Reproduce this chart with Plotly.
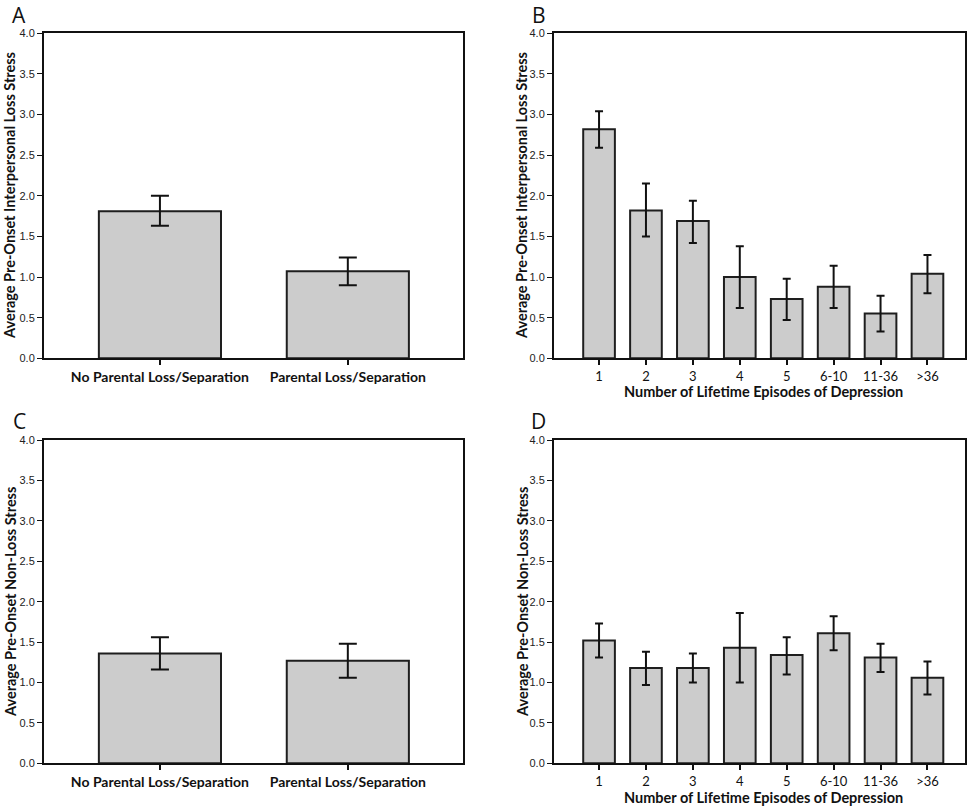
import plotly.graph_objects as go

# ---------------- data ----------------
parental_groups = ["No Parental Loss/Separation", "Parental Loss/Separation"]
episode_groups = ["1", "2", "3", "4", "5", "6-10", "11-36", ">36"]

# Panel A: interpersonal loss stress by parental loss
a_mean = [1.81, 1.07]
a_upper = [2.00, 1.24]
a_lower = [1.63, 0.90]

# Panel B: interpersonal loss stress by number of episodes
b_mean = [2.82, 1.82, 1.69, 1.00, 0.73, 0.88, 0.55, 1.04]
b_upper = [3.04, 2.15, 1.94, 1.38, 0.98, 1.14, 0.77, 1.27]
b_lower = [2.59, 1.50, 1.42, 0.62, 0.47, 0.62, 0.33, 0.80]

# Panel C: non-loss stress by parental loss
c_mean = [1.36, 1.27]
c_upper = [1.56, 1.48]
c_lower = [1.16, 1.06]

# Panel D: non-loss stress by number of episodes
d_mean = [1.52, 1.18, 1.18, 1.43, 1.34, 1.61, 1.31, 1.06]
d_upper = [1.73, 1.38, 1.36, 1.86, 1.56, 1.82, 1.48, 1.26]
d_lower = [1.31, 0.97, 1.00, 1.00, 1.10, 1.40, 1.13, 0.85]

y_ticks = [0.0, 0.5, 1.0, 1.5, 2.0, 2.5, 3.0, 3.5, 4.0]
y_tick_text = ["0.0", "0.5", "1.0", "1.5", "2.0", "2.5", "3.0", "3.5", "4.0"]

title_interpersonal = "Average Pre-Onset Interpersonal Loss Stress"
title_nonloss = "Average Pre-Onset Non-Loss Stress"
title_episodes = "Number of Lifetime Episodes of Depression"

# ---------------- figure ----------------
W, H = 975, 809
fig = go.Figure()

BAR_FILL = "#cccccc"
BAR_LINE = "#1e1e1e"
TITLE_FONT = dict(family="Lato", size=14.5, color="#111111")


def px_x(x):
    return x / W


def px_y(y):
    return 1 - y / H


panels = [
    # name, cats, mean, up, lo, x-domain px, y-domain px, x-range, barwidth, capw, bold ticks
    ("A", parental_groups, a_mean, a_upper, a_lower, (44, 463), (33.3, 358.3), (-0.617, 1.613), 0.65, 9, True),
    ("B", episode_groups, b_mean, b_upper, b_lower, (554, 965), (33.3, 358.3), (-0.96, 7.80), 0.675, 4, False),
    ("C", parental_groups, c_mean, c_upper, c_lower, (44, 463), (440, 763.3), (-0.617, 1.613), 0.65, 9, True),
    ("D", episode_groups, d_mean, d_upper, d_lower, (554, 965), (440, 763.3), (-0.96, 7.80), 0.675, 4, False),
]

for i, (name, cats, mean, up, lo, xd, yd, xr, bw, capw, bold) in enumerate(panels):
    idx = "" if i == 0 else str(i + 1)
    xa = "x" + idx
    ya = "y" + idx
    fig.add_trace(go.Bar(
        x=cats, y=mean, xaxis=xa, yaxis=ya,
        width=bw,
        marker=dict(color=BAR_FILL, line=dict(color=BAR_LINE, width=2)),
        error_y=dict(type="data", symmetric=False,
                     array=[u - m for u, m in zip(up, mean)],
                     arrayminus=[m - l for m, l in zip(mean, lo)],
                     color="#111111", thickness=2, width=capw),
        showlegend=False, hoverinfo="skip",
    ))
    tickfont = (dict(family="Lato", size=14, color="#111111") if bold
                else dict(family="Lato", size=13, color="#111111"))
    ticktext = [f"<b>{c}</b>" for c in cats] if bold else cats
    fig.layout["xaxis" + idx] = dict(
        domain=[px_x(xd[0]), px_x(xd[1])],
        anchor=ya, type="category", range=list(xr),
        tickmode="array", tickvals=cats, ticktext=ticktext,
        ticks="outside", ticklen=5, tickwidth=1.6, tickcolor="#111111",
        showline=True, linecolor="#111111", linewidth=2, mirror=True,
        showgrid=False, zeroline=False, tickfont=tickfont, fixedrange=True,
        automargin=False,
    )
    fig.layout["yaxis" + idx] = dict(
        domain=[px_y(yd[1]), px_y(yd[0])],
        anchor=xa, range=[0, 4.0],
        tickmode="array", tickvals=y_ticks, ticktext=y_tick_text,
        ticks="outside", ticklen=5, tickwidth=1.4, tickcolor="#111111",
        showline=True, linecolor="#111111", linewidth=2, mirror=True,
        showgrid=False, zeroline=False,
        tickfont=dict(family="Liberation Sans", size=11, color="#222222"),
        fixedrange=True, automargin=False,
    )

annotations = []
# panel letters
for letter, x, y in [("A", 19, 15), ("B", 539, 15), ("C", 19, 421), ("D", 538, 421)]:
    annotations.append(dict(text=letter, x=px_x(x), y=px_y(y), xref="paper", yref="paper",
                            xanchor="center", yanchor="middle", showarrow=False,
                            font=dict(family="Open Sans", size=21, color="#111111")))
# y axis titles
for txt, x, y in [(title_interpersonal, 10, 196), (title_interpersonal, 522, 196),
                  (title_nonloss, 10, 602), (title_nonloss, 522, 602)]:
    annotations.append(dict(text=f"<b>{txt}</b>", x=px_x(x), y=px_y(y), xref="paper", yref="paper",
                            xanchor="center", yanchor="middle", showarrow=False, textangle=-90,
                            font=TITLE_FONT))
# x axis titles for B and D
for y in [391, 797]:
    annotations.append(dict(text=f"<b>{title_episodes}</b>", x=px_x(763), y=px_y(y),
                            xref="paper", yref="paper", xanchor="center", yanchor="middle",
                            showarrow=False, font=dict(family="Lato", size=14.5, color="#111111")))

fig.update_layout(
    template="none",
    width=W, height=H,
    margin=dict(l=0, r=0, t=0, b=0, pad=0),
    paper_bgcolor="white", plot_bgcolor="white",
    annotations=annotations,
    bargap=0.3,
)

fig.write_html("out.html", config={"displayModeBar": False},
               post_script="document.body.style.margin='0';document.body.style.padding='0';")
